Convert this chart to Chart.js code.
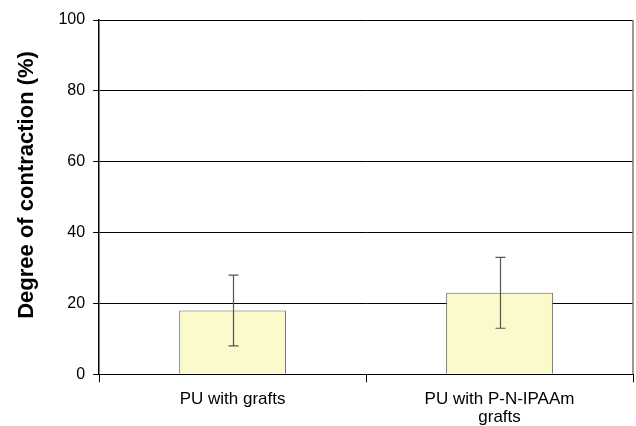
<!DOCTYPE html>
<html>
<head>
<meta charset="utf-8">
<script src="https://cdn.jsdelivr.net/npm/chart.js@4"></script>
<style>
  html, body { margin: 0; padding: 0; background: #fff; }
  #wrap { width: 636px; height: 426px; }
</style>
</head>
<body>
<div id="wrap"><canvas id="myBarChart"></canvas></div>
<script>
// data
const labels = ['PU with grafts', ['PU with P-N-IPAAm', 'grafts']];
const contraction = [18, 23];
const errLow = [8, 13];
const errHigh = [28, 33];
const yTicks = [0, 20, 40, 60, 80, 100];

// error bars + right border of the plot
const errorBars = {
  id: 'errorBars',
  afterDatasetsDraw(chart) {
    const ctx = chart.ctx;
    const y = chart.scales.y;
    const meta = chart.getDatasetMeta(0);
    ctx.save();
    ctx.strokeStyle = '#555';
    ctx.lineWidth = 1.2;
    meta.data.forEach(function (bar, i) {
      const x = Math.round(bar.x) + 0.5;
      const lo = y.getPixelForValue(errLow[i]);
      const hi = y.getPixelForValue(errHigh[i]);
      ctx.beginPath();
      ctx.moveTo(x, lo); ctx.lineTo(x, hi);
      ctx.moveTo(x - 5, lo); ctx.lineTo(x + 5, lo);
      ctx.moveTo(x - 5, hi); ctx.lineTo(x + 5, hi);
      ctx.stroke();
    });
    const a = chart.chartArea;
    ctx.strokeStyle = '#777';
    ctx.lineWidth = 1.5;
    ctx.beginPath();
    ctx.moveTo(a.right, a.top); ctx.lineTo(a.right, a.bottom);
    ctx.stroke();
    ctx.restore();
  }
};

const barData = {
  labels: labels,
  datasets: [{
    data: contraction,
    backgroundColor: '#fafacb',
    borderColor: '#666',
    borderWidth: 1,
    barPercentage: 0.4,
    categoryPercentage: 1.0
  }]
};

const barConfig = {
  type: 'bar',
  data: barData,
  options: {
    responsive: true,
    maintainAspectRatio: false,
    animation: false,
    layout: { padding: { top: 20, right: 3, left: 10, bottom: -8 } },
    plugins: { legend: { display: false }, tooltip: { enabled: false } },
    scales: {
      x: {
        grid: { offset: true, drawOnChartArea: false, color: '#000', tickLength: 8 },
        border: { color: '#000', width: 1 },
        ticks: { color: '#000', font: { family: 'Liberation Sans', size: 17, lineHeight: 1.05 }, maxRotation: 0, padding: 8 }
      },
      y: {
        min: 0,
        max: 100,
        afterBuildTicks: function (axis) { axis.ticks = yTicks.map(function (v) { return { value: v }; }); },
        grid: { color: '#000', tickLength: 6 },
        border: { color: '#000', width: 1.5 },
        ticks: { color: '#000', font: { family: 'Liberation Sans', size: 16 }, padding: 8 },
        title: {
          display: true,
          // leading spaces nudge the centred title a little upwards
          text: '\u00a0\u00a0\u00a0\u00a0Degree of contraction (%)',
          color: '#000',
          font: { family: 'Liberation Sans', size: 22, weight: 'bold' },
          padding: { top: 4, bottom: 10 }
        }
      }
    }
  },
  plugins: [errorBars]
};

const myBarChart = new Chart(document.getElementById('myBarChart'), barConfig);
</script>
</body>
</html>
